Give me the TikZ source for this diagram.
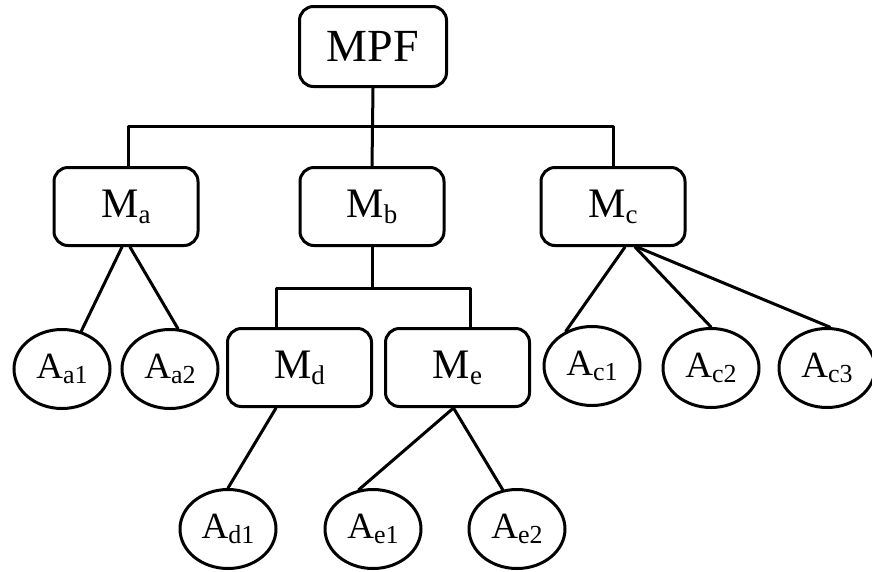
\documentclass[tikz,border=0pt]{standalone}
\usepackage{fontspec}
\setmainfont{Liberation Serif}
\usetikzlibrary{shapes.geometric}
\newcommand{\subtxt}[1]{\raisebox{-6pt}{\fontsize{27}{27}\selectfont #1}}
\newcommand{\subsm}[1]{\raisebox{-5pt}{\fontsize{26}{26}\selectfont #1}}
\tikzset{
  boxnode/.style={draw, rounded corners=14pt, line width=3pt, inner sep=0pt,
    minimum width=144pt, minimum height=78pt, font=\fontsize{42}{42}\selectfont},
  topnode/.style={boxnode, minimum width=147pt, minimum height=80pt,
    font=\fontsize{46}{46}\selectfont},
  leafnode/.style={draw, ellipse, line width=3pt, inner sep=0pt,
    minimum width=96pt, minimum height=79pt, font=\fontsize{37}{37}\selectfont},
  link/.style={line width=3pt, line cap=round, line join=round}
}
\begin{document}
\begin{tikzpicture}[x=1pt, y=-1pt]
  \useasboundingbox (0,0) rectangle (872,571);

  % root and first level
  \node[topnode] (mpf) at (373,46.5) {MPF};
  \node[boxnode] (ma) at (126,206.5) {M\subtxt{a}};
  \node[boxnode] (mb) at (372,206.5) {M\subtxt{b}};
  \node[boxnode] (mc) at (613,206.5) {M\subtxt{c}};

  % second level boxes
  \node[boxnode] (md) at (299.5,367.5) {M\subtxt{d}};
  \node[boxnode] (me) at (457.5,367.5) {M\subtxt{e}};

  % leaves
  \node[leafnode] (aa1) at (62,369) {A\subsm{a1}};
  \node[leafnode] (aa2) at (170,369) {A\subsm{a2}};
  \node[leafnode] (ac1) at (592,366) {A\subsm{c1}};
  \node[leafnode] (ac2) at (711,368) {A\subsm{c2}};
  \node[leafnode] (ac3) at (827,368) {A\subsm{c3}};
  \node[leafnode] (ad1) at (228,529) {A\subsm{d1}};
  \node[leafnode] (ae1) at (373,529) {A\subsm{e1}};
  \node[leafnode] (ae2) at (517,529) {A\subsm{e2}};

  % junction rails
  \coordinate (rail1) at (373,126);
  \coordinate (rail2) at (372,288);

  % root to first level
  \draw[link] (mpf.south) -- (mb.north);
  \draw[link] ([xshift=2pt]ma.north) -- ([xshift=2pt]ma.north |- rail1)
    -- (mc.north |- rail1) -- (mc.north);

  % M_b to M_d and M_e
  \draw[link] (mb.south) -- (rail2);
  \draw[link] ([xshift=-23.5pt]md.north) -- ([xshift=-23.5pt]md.north |- rail2)
    -- ([xshift=12.5pt]me.north |- rail2) -- ([xshift=12.5pt]me.north);

  % boxes to leaves
  \draw[link] ([xshift=-4pt]ma.south) -- (aa1.63);
  \draw[link] ([xshift=4pt]ma.south) -- (aa2.79);
  \draw[link] ([xshift=12pt]mc.south) -- (ac1.127);
  \draw[link] ([xshift=22pt]mc.south) -- (ac2.90);
  \draw[link] ([xshift=24pt]mc.south) -- (ac3.86);
  \draw[link] ([xshift=-23.5pt]md.south) -- (ad1.90);
  \draw[link] ([xshift=-4pt]me.south) -- (ae1.110);
  \draw[link] ([xshift=-4pt]me.south) -- (ae2.110);
\end{tikzpicture}
\end{document}
